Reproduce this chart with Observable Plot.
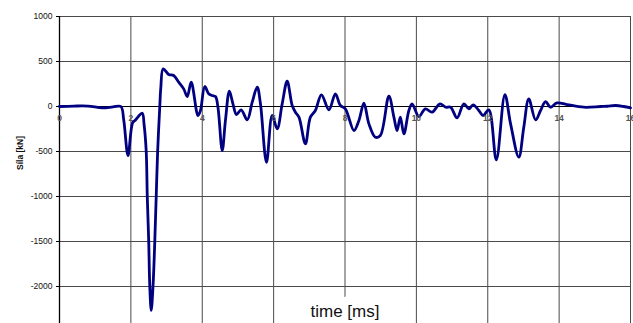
<!DOCTYPE html>
<html>
<head>
<meta charset="utf-8">
<script src="https://cdn.jsdelivr.net/npm/d3@7"></script>
<script src="https://cdn.jsdelivr.net/npm/@observablehq/plot@0.6"></script>
<style>
  html, body { margin: 0; padding: 0; background: #fff; }
  svg { display: block; }
</style>
</head>
<body>
<div id="chart"></div>
<script>
const xTicks = [0, 2, 4, 6, 8, 10, 12, 14, 16];
const yTicks = [-2000, -1500, -1000, -500, 0, 500, 1000];
const xLabel = "time [ms]";
const yLabel = "Síla [kN]";

const time = [
  0, 0.4, 0.8, 1.2, 1.5, 1.72, 1.8, 1.92, 2.05, 2.13, 2.21, 2.32, 2.37, 2.43, 2.46, 2.5, 2.53, 2.57,
  2.62, 2.67, 2.71, 2.75, 2.81, 2.84, 2.905, 3.06, 3.2, 3.34, 3.48, 3.58, 3.69, 3.88, 3.95,
  4.07, 4.18, 4.28, 4.37, 4.44, 4.56, 4.65, 4.76, 4.86, 4.96, 5.09, 5.26, 5.4, 5.54, 5.63,
  5.8, 5.96, 6.1, 6.24, 6.38, 6.52, 6.61, 6.71, 6.89, 7.03, 7.17, 7.34, 7.55, 7.73, 7.87,
  8.01, 8.25, 8.39, 8.53, 8.67, 8.85, 8.99, 9.23, 9.37, 9.46, 9.55, 9.65, 9.79, 9.88,
  10.07, 10.25, 10.44, 10.66, 10.82, 10.96, 11.14, 11.33, 11.47, 11.59, 11.75, 11.87, 12.03,
  12.24, 12.48, 12.64, 12.87, 13.01, 13.15, 13.34, 13.48, 13.62, 13.76, 13.94,
  14.22, 14.69, 15.16, 15.35, 15.58, 15.81, 16
];
const force = [
  0, 5, 5, -15, -5, 0, -150, -545, -180, -150, -110, -75, -200, -500, -1007, -1500, -2000, -2266,
  -2000, -1500, -1000, -500, 0, 215, 419, 356, 344, 270, 196, 111, 270, -100, -44,
  222, 141, 122, 111, -8, -489, -155, 170, 30, -89, -37, -148, 48, 215, 33,
  -620, -100, -248, 30, 281, 11, -63, -118, -415, -118, -44, 130, -37, 141, 11,
  -26, -267, -155, 37, -193, -341, -322, 115, -118, -267, -118, -304, -44, 30,
  -111, -26, -63, 30, -8, -8, -126, 30, -26, 19, -44, -100, -37,
  -593, 133, -193, -563, -230, 85, -148, -44, 55, -8, 40,
  22, -8, 0, 3, 11, 0, -15
];

const data = time.map((t, i) => ({t, f: force[i]}));
const font = "'Liberation Sans', Arial, sans-serif";

const chart = Plot.plot({
  width: 633,
  height: 323,
  marginLeft: 59,
  marginRight: 3,
  marginTop: 16,
  marginBottom: 0,
  style: {fontFamily: font, background: "#fff"},
  x: {domain: [0, 16], axis: null},
  y: {domain: [-2411, 1000], axis: null},
  marks: [
    Plot.ruleX(xTicks, {stroke: "#4a4a4a", strokeWidth: 1}),
    Plot.ruleY(yTicks, {stroke: "#4a4a4a", strokeWidth: 1}),
    Plot.ruleY([0], {stroke: "#000", strokeWidth: 1}),
    Plot.ruleX([0], {stroke: "#000", strokeWidth: 1.3}),
    Plot.axisY({ticks: yTicks, tickFormat: d => String(d), tickSize: 3, tickPadding: 4, fontSize: 8.5, label: null, stroke: "#000", fill: "#111"}),
    Plot.line(data, {x: "t", y: "f", stroke: "#000080", strokeWidth: 2.8, curve: "catmull-rom"}),
    Plot.text(xTicks, {x: d => d, y: 0, dy: 12, text: d => String(d), fontSize: 8.5, fontWeight: "bold", fill: "#555"}),
    Plot.text([yLabel], {frameAnchor: "left", dx: -39, rotate: -90, fontSize: 8.5, fontWeight: "bold", fill: "#111"}),
    Plot.text([xLabel], {x: 8, frameAnchor: "bottom", dy: -7, fontSize: 17, fill: "#111", stroke: "#fff", strokeWidth: 18})
  ]
});
document.getElementById("chart").appendChild(chart);
</script>
</body>
</html>
